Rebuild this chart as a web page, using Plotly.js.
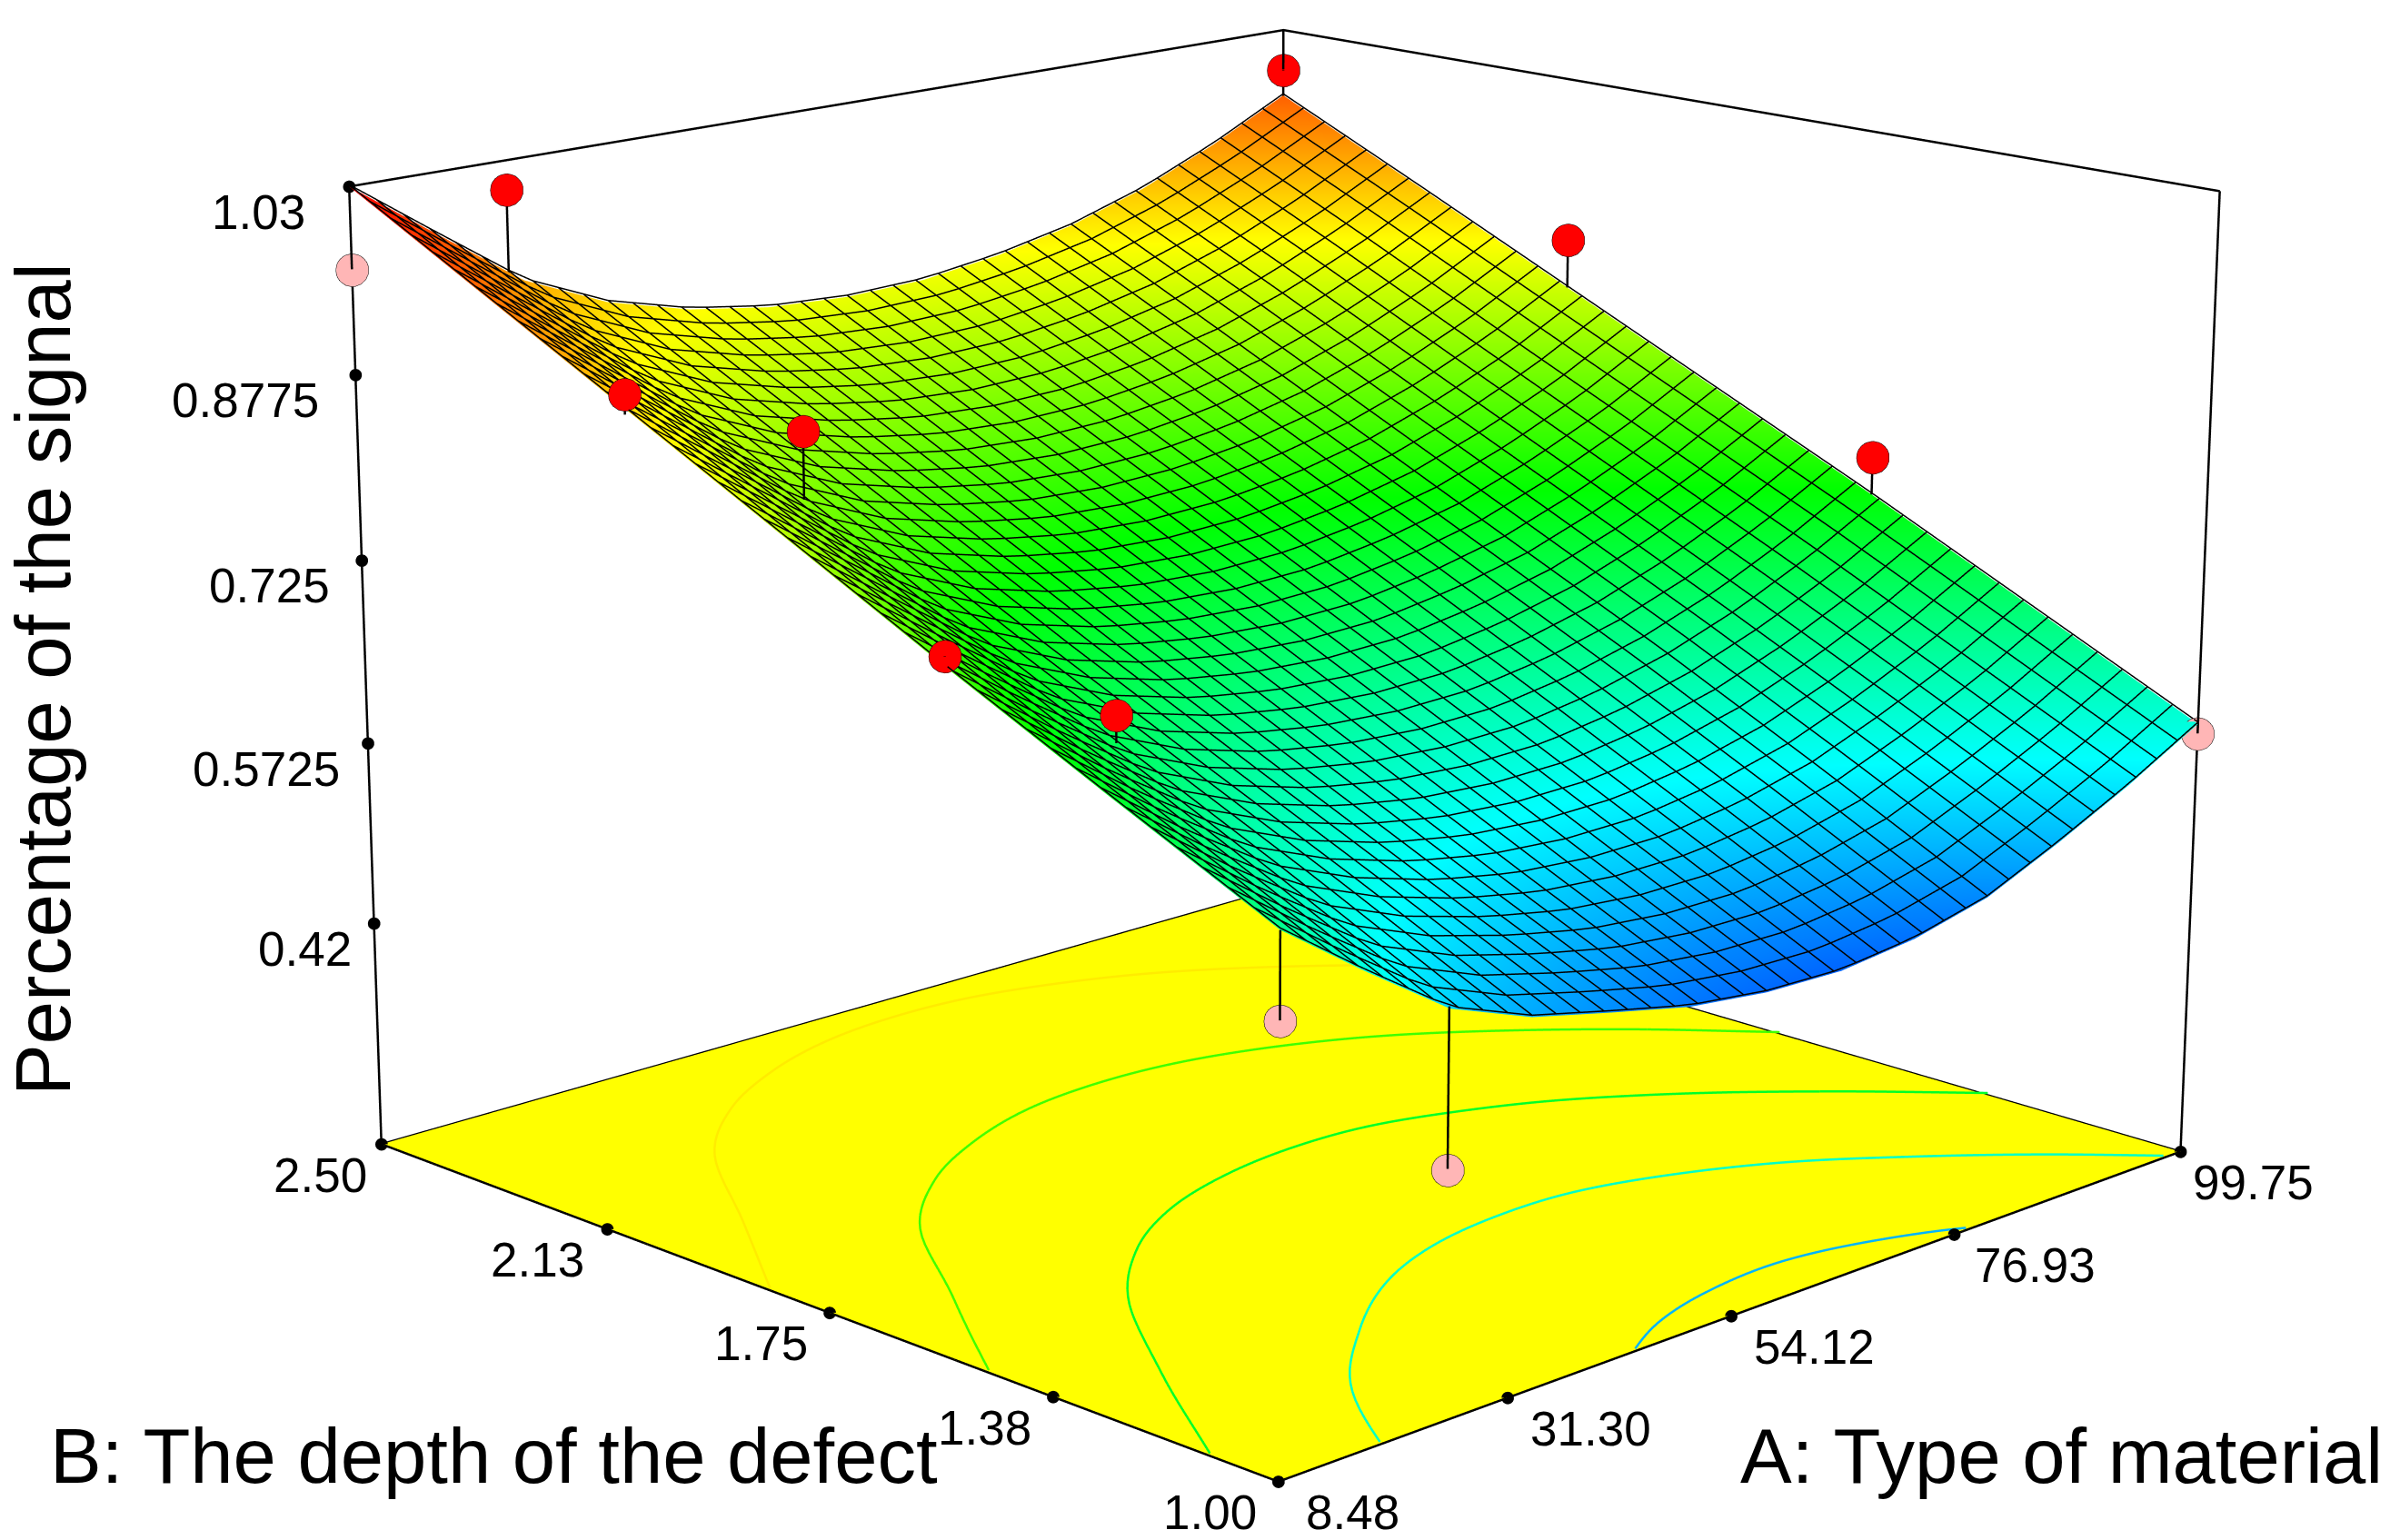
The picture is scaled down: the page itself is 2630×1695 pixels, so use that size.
<!DOCTYPE html>
<html><head><meta charset="utf-8">
<script src="https://cdn.plot.ly/plotly-3.0.1.min.js"></script>
<style>html,body{margin:0;padding:0;background:#fff;overflow:hidden}#g{width:2630px;height:1695px}</style>
</head><body><div id="g"></div>
<script>
// Axis nodes of the response surface
const materialNodes = [8.48,16.09,23.69,31.30,38.91,46.51,54.12,61.72,69.33,76.93,84.54,92.14,99.75];
const depthNodes = [1.00,1.25,1.50,1.75,2.00,2.25,2.50];
const signalRow100 = [.645,.595,.548,.522,.506,.491,.483,.481,.488,.503,.53,.56,.594];
const signalRow125 = [.707,.657,.613,.585,.565,.552,.5465,.547,.556,.572,.5965,.625,.659];
const signalRow150 = [.77,.72,.674,.645,.626,.615,.6105,.612,.622,.6385,.661,.69,.724];
const signalRow175 = [.835,.785,.735,.706,.688,.678,.674,.676,.686,.701,.724,.752,.786];
const signalRow200 = [.9,.85,.8,.77,.752,.741,.7375,.74,.749,.764,.786,.814,.848];
const signalRow225 = [.965,.914,.864,.834,.816,.805,.801,.803,.812,.827,.849,.877,.91];
const signalRow250 = [1.03,.979,.929,.898,.879,.868,.864,.866,.875,.889,.91,.938,.971];
const signal = [signalRow100,signalRow125,signalRow150,signalRow175,signalRow200,signalRow225,signalRow250];

// Design points and where each one's stem meets the surface
const pointMaterial = [8.48,8.48,8.48,8.48,22.3,23.2,23.6,23.6,99.75,99.75,99.75,99.75];
const pointDepth    = [2.5,2.018,1.5,1,2.5,2,1.5,1,2.5,2,1.5,1];
const pointSignal   = [.963,.916,.778,.578,1.006,.862,.700,.425,.994,.89,.756,.586];
const pointSurface  = [1.03,.90,.77,.645,.93,.807,.678,.55,.971,.848,.724,.594];
const pointColor    = ['#FFB6B6','#FF0000','#FF0000','#FFB6B6','#FF0000','#FF0000','#FF0000','#FFB6B6','#FF0000','#FF0000','#FF0000','#FFB6B6'];

// Axes; tick positions are where the dots sit along the floor edges in the picture
const materialRange = [8.48,99.75], depthRange = [1,2.5], signalRange = [0.23,1.03];
const materialTicks = [8.48,29.47,51.29,74.52,99.75];
const materialLabels = ['8.48','31.30','54.12','76.93','99.75'];
const depthTicks = [1,1.34,1.70,2.083,2.5];
const depthLabels = ['1.00','1.38','1.75','2.13','2.50'];
const signalTicks = [.42,.5725,.725,.8775,1.03];
const signalLabels = ['0.42','0.5725','0.725','0.8775','1.03'];

// Contour levels projected on the floor and their colours
const contourLevels = [.50,.585,.67,.755,.848];
const contourColors = ['#00B4FF','#00FFC8','#00FF28','#40FF00','#FFEC00'];

const lo = signalRange[0], hi = signalRange[1];
const [a0,a1] = materialRange, [b0,b1] = depthRange;
const black = '#000000';
const flat = {ambient:1,diffuse:0,specular:0,roughness:1,fresnel:0};
const traces = [];
const padA=(a1-a0)*.004, padB=(b1-b0)*.004, padZ=(hi-lo)*.004;
const nI=materialNodes.length-1, nJ=depthNodes.length-1;

function bilinear(A,B){
  const u=(A-a0)/(a1-a0)*nI, v=(B-b0)/(b1-b0)*nJ;
  const i=Math.min(nI-1,Math.floor(u)), j=Math.min(nJ-1,Math.floor(v)), s=u-i, t=v-j;
  return (1-t)*((1-s)*signal[j][i]+s*signal[j][i+1])+t*((1-s)*signal[j+1][i]+s*signal[j+1][i+1]);
}
function cr(p0,p1,p2,p3,t){return .5*(2*p1+(p2-p0)*t+(2*p0-5*p1+4*p2-p3)*t*t+(3*p1-p0-3*p2+p3)*t*t*t);}
function ext(f,k,n){return k<0?2*f(0)-f(1):k>n?2*f(n)-f(n-1):f(k);}
function smooth(A,B){
  const u=(A-a0)/(a1-a0)*nI, v=(B-b0)/(b1-b0)*nJ;
  const i=Math.min(nI-1,Math.floor(u)), j=Math.min(nJ-1,Math.floor(v)), s=u-i, t=v-j;
  const row=r=>{const f=c=>signal[r][c];return cr(ext(f,i-1,nI),f(i),f(i+1),ext(f,i+2,nI),s);};
  return cr(ext(row,j-1,nJ),row(j),row(j+1),ext(row,j+2,nJ),t);
}

// floor
traces.push({type:'surface',x:[a0,a1],y:[b0,b1],z:[[lo,lo],[lo,lo]],showscale:false,cauto:false,cmin:0,cmax:2,
  colorscale:[[0,'#FFFF00'],[1,'#FFFF00']],lighting:flat,hoverinfo:'skip',
  contours:{x:{highlight:false},y:{highlight:false},z:{highlight:false}}});

// response surface
traces.push({type:'surface',x:materialNodes,y:depthNodes,z:signal,showscale:false,cmin:.42,cmax:1.03,
  colorscale:[[0,'#0000FF'],[.25,'#00FFFF'],[.5,'#00FF00'],[.75,'#FFFF00'],[1,'#FF0000']],
  lighting:flat,hoverinfo:'skip',contours:{x:{highlight:false},y:{highlight:false},z:{highlight:false}}});

// 40 x 40 wire mesh lying on the surface
const meshX=[],meshY=[],meshZ=[], meshN=40, lift=.0015;
for(let p=0;p<=meshN;p++){
  const A=a0+(a1-a0)*p/meshN, B=b0+(b1-b0)*p/meshN;
  for(let q=0;q<=meshN;q++){const Bq=b0+(b1-b0)*q/meshN;meshX.push(A);meshY.push(Bq);meshZ.push(bilinear(A,Bq)+lift);}
  meshX.push(null);meshY.push(null);meshZ.push(null);
  for(let q=0;q<=meshN;q++){const Aq=a0+(a1-a0)*q/meshN;meshX.push(Aq);meshY.push(B);meshZ.push(bilinear(Aq,B)+lift);}
  meshX.push(null);meshY.push(null);meshZ.push(null);
}
traces.push({type:'scatter3d',mode:'lines',x:meshX,y:meshY,z:meshZ,line:{color:black,width:3},hoverinfo:'skip'});

// contour lines on the floor, traced from the surface matrix
const fineI=96,fineJ=48;
contourLevels.forEach((level,k)=>{
  const lev=level+1e-5;
  const xs=[],ys=[],zs=[];
  for(let j=0;j<fineJ;j++)for(let i=0;i<fineI;i++){
    const A=a0+(a1-a0)*i/fineI,A2=a0+(a1-a0)*(i+1)/fineI,B=b0+(b1-b0)*j/fineJ,B2=b0+(b1-b0)*(j+1)/fineJ;
    const c=[[A,B,smooth(A,B)],[A2,B,smooth(A2,B)],[A2,B2,smooth(A2,B2)],[A,B2,smooth(A,B2)]];
    const hit=[];
    for(let e=0;e<4;e++){const p=c[e],q=c[(e+1)%4];
      if((p[2]-lev)*(q[2]-lev)<0){const t=(lev-p[2])/(q[2]-p[2]);hit.push([p[0]+t*(q[0]-p[0]),p[1]+t*(q[1]-p[1])]);}}
    if(hit.length>=2){xs.push(hit[0][0],hit[1][0],null);ys.push(hit[0][1],hit[1][1],null);zs.push(lo+.002,lo+.002,null);}
  }
  traces.push({type:'scatter3d',mode:'lines',x:xs,y:ys,z:zs,line:{color:contourColors[k],width:5},hoverinfo:'skip'});
});

// box edges
function edge(x,y,z,w){traces.push({type:'scatter3d',mode:'lines',x,y,z,line:{color:black,width:w||5},hoverinfo:'skip'});}
edge([a0,a0,a1,a1,a0],[b0,b1,b1,b0,b0],[lo,lo,lo,lo,lo]);
edge([a0,a1,a1],[b1,b1,b0],[hi,hi,hi]);
edge([a0,a0],[b1,b1],[lo,hi]);
edge([a1,a1],[b1,b1],[lo,hi]);
edge([a1,a1],[b0,b0],[lo,hi]);

// tick dots
const dot={size:8,color:black};
traces.push({type:'scatter3d',mode:'markers',x:materialTicks,y:materialTicks.map(()=>b0),z:materialTicks.map(()=>lo),marker:dot,hoverinfo:'skip'});
traces.push({type:'scatter3d',mode:'markers',x:depthTicks.map(()=>a0),y:depthTicks,z:depthTicks.map(()=>lo),marker:dot,hoverinfo:'skip'});
traces.push({type:'scatter3d',mode:'markers',x:signalTicks.map(()=>a0),y:signalTicks.map(()=>b1),z:signalTicks,marker:dot,hoverinfo:'skip'});

// stems and design points
pointMaterial.forEach((m,i)=>edge([m,m],[pointDepth[i],pointDepth[i]],[pointSignal[i],pointSurface[i]],5));
traces.push({type:'scatter3d',mode:'markers',x:pointMaterial,y:pointDepth,z:pointSignal,
  marker:{size:21,color:pointColor,line:{color:black,width:5}},hoverinfo:'skip'});

// tick labels anchored to the 3D axes
const tf={family:'"Liberation Sans",Arial,sans-serif',size:53,color:black};
const materialShift=[82,92,92,89,80], depthShift=[-75,-75,-75,-77,-67], signalShift=[8,2,-2,-7,-15];
const sceneNotes=[];
materialTicks.forEach((v,i)=>sceneNotes.push({x:v,y:b0,z:lo,text:materialLabels[i],showarrow:false,xshift:materialShift[i],yshift:-34,font:tf}));
depthTicks.forEach((v,i)=>sceneNotes.push({x:a0,y:v,z:lo,text:depthLabels[i],showarrow:false,xshift:depthShift[i],yshift:-34,font:tf}));
signalTicks.forEach((v,i)=>sceneNotes.push({x:a0,y:b1,z:v,text:signalLabels[i],showarrow:false,xanchor:'right',xshift:-31+signalShift[i],yshift:-28,font:tf}));

const titleFont={family:'"Liberation Sans",Arial,sans-serif',size:85,color:black};
const layout={width:2630,height:1695,margin:{l:0,r:0,t:0,b:0},paper_bgcolor:'#fff',showlegend:false,
  scene:{domain:{x:[0,1],y:[0,1]},aspectmode:'manual',aspectratio:{x:1,y:1,z:.7656},
    xaxis:{visible:false,range:[a0-padA,a1+padA]},yaxis:{visible:false,range:[b0-padB,b1+padB]},zaxis:{visible:false,range:[lo-padZ,hi+padZ]},
    camera:{eye:{x:-3.625,y:-3.625,z:1.378},center:{x:-.0595,y:.0334,z:-.0684},up:{x:0,y:0,z:1}},
    annotations:sceneNotes},
  annotations:[
    {xref:'paper',yref:'paper',x:543/2630,y:1-1602/1695,xanchor:'center',yanchor:'middle',text:'B: The depth of the defect',showarrow:false,font:titleFont},
    {xref:'paper',yref:'paper',x:2268/2630,y:1-1602/1695,xanchor:'center',yanchor:'middle',text:'A: Type of material',showarrow:false,font:titleFont},
    {xref:'paper',yref:'paper',x:47/2630,y:1-748/1695,xanchor:'center',yanchor:'middle',text:'Percentage of the signal',textangle:-90,showarrow:false,font:titleFont}
  ]};
Plotly.newPlot('g',traces,layout,{displayModeBar:false}).then(gd=>{
  const s=gd._fullLayout.scene._scene;
  // narrow lens: the reference has only mild perspective
  if(s&&s.glplot){s.glplot.fovy=0.2211;s.glplot.redraw();}
});
</script></body></html>
